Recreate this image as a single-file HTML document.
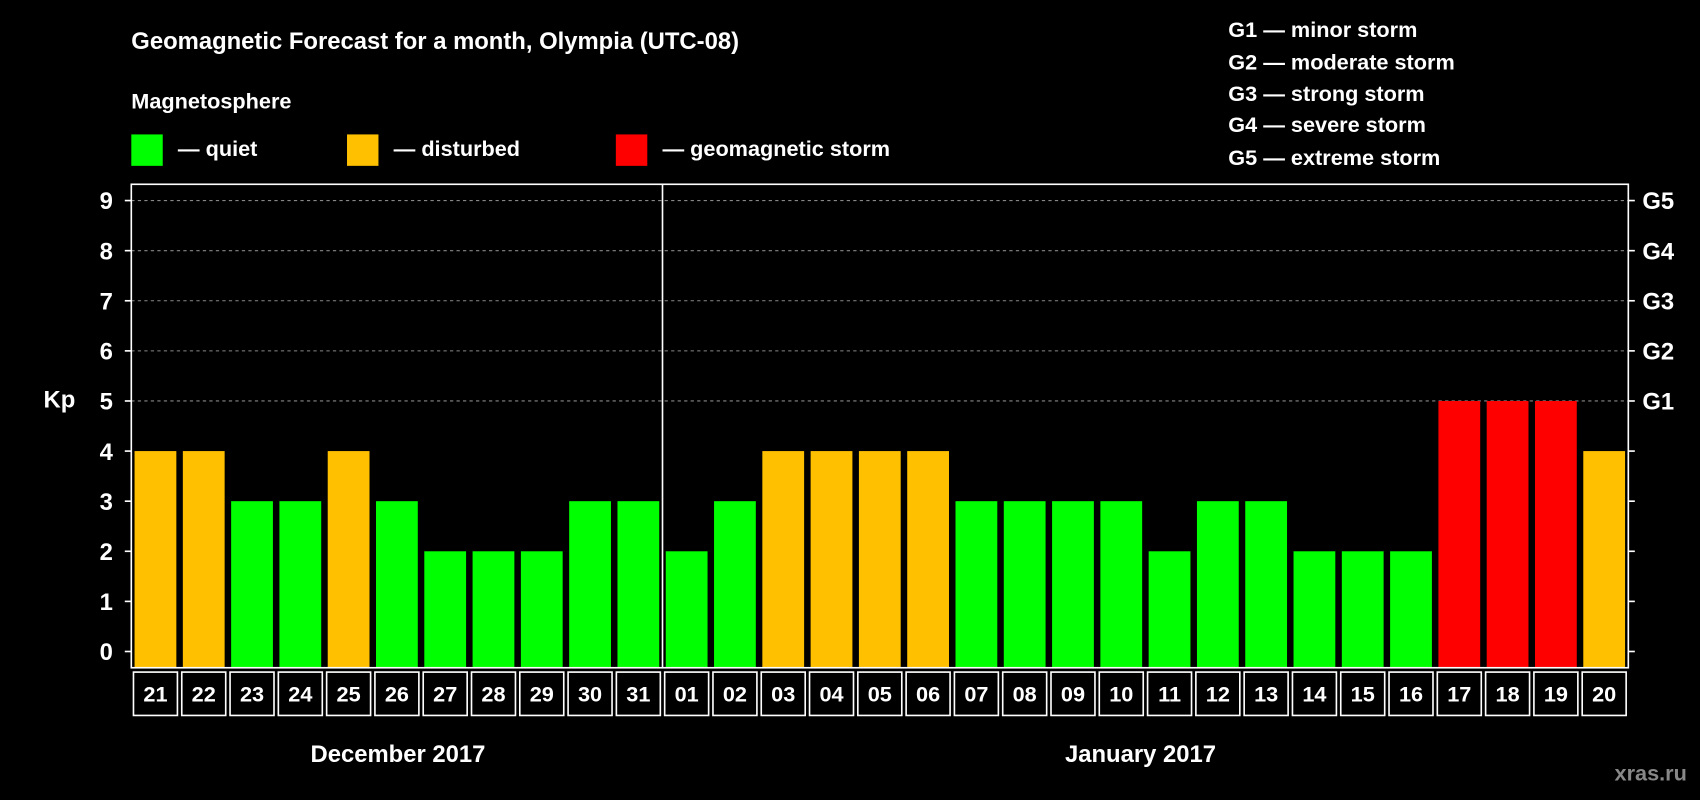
<!DOCTYPE html>
<html><head><meta charset="utf-8"><style>
html,body{margin:0;padding:0;background:#000;}
svg{display:block;font-family:"Liberation Sans",Arial,sans-serif;font-weight:bold;}
</style></head><body>
<svg id="chart" width="1700" height="800" viewBox="0 0 1568 738" xmlns="http://www.w3.org/2000/svg">
<rect x="0" y="0" width="1568" height="738" fill="#000"/>
<text x="121" y="45" fill="#fff" font-size="22">Geomagnetic Forecast for a month, Olympia (UTC-08)</text>
<text x="121" y="100" fill="#fff" font-size="20">Magnetosphere</text>
<g><rect x="121" y="124" width="29" height="29" fill="#00ff00"/><text x="164" y="144" fill="#fff" font-size="20">— quiet</text></g>
<g><rect x="320" y="124" width="29" height="29" fill="#ffc000"/><text x="363" y="144" fill="#fff" font-size="20">— disturbed</text></g>
<g><rect x="568" y="124" width="29" height="29" fill="#ff0000"/><text x="611" y="144" fill="#fff" font-size="20">— geomagnetic storm</text></g>
<g fill="#fff" font-size="20">
<text x="1133" y="34">G1 — minor storm</text>
<text x="1133" y="64">G2 — moderate storm</text>
<text x="1133" y="93">G3 — strong storm</text>
<text x="1133" y="122">G4 — severe storm</text>
<text x="1133" y="152">G5 — extreme storm</text>
</g>
<text x="40" y="376" fill="#fff" font-size="22">Kp</text>
<g id="grid"></g>
<g id="bars"></g>
<rect x="121" y="170" width="1381" height="446" fill="none" stroke="#fff" stroke-width="1.5"/>
<g id="axes"></g>
<text x="367" y="703" fill="#fff" font-size="22" text-anchor="middle">December 2017</text>
<text x="1052" y="703" fill="#fff" font-size="22" text-anchor="middle">January 2017</text>
<text x="1556" y="720" fill="#888" font-size="20" text-anchor="end">xras.ru</text>
</svg>
<script>
const days = ["21","22","23","24","25","26","27","28","29","30","31","01","02","03","04","05","06","07","08","09","10","11","12","13","14","15","16","17","18","19","20"];
const kpValues = [4,4,3,3,4,3,2,2,2,3,3,2,3,4,4,4,4,3,3,3,3,2,3,3,2,2,2,5,5,5,4];
const yTicks = [0,1,2,3,4,5,6,7,8,9];
const gLabels = ["","","","","","G1","G2","G3","G4","G5"];
const monthSplitIndex = 11;

const NS="http://www.w3.org/2000/svg";
const L=121,R=1502,T=170,B=616,Y0=601,UNIT=46.22;
const colW=(R-L)/days.length;
function yScale(v){return Y0-v*UNIT;}
function xScale(i){return L+i*colW;}
function mk(tag,attrs){const e=document.createElementNS(NS,tag);for(const k in attrs)e.setAttribute(k,attrs[k]);return e;}
const grid=document.getElementById('grid'),bars=document.getElementById('bars'),axes=document.getElementById('axes');
yTicks.forEach((t,i)=>{
  const y=yScale(t);
  if(t>=5){const g=mk('line',{x1:L,x2:R,y1:y,y2:y,stroke:'#888','stroke-dasharray':'3,3','stroke-width':1});
    
    grid.appendChild(g);}
  const tl=mk('line',{x1:L-6,x2:L,y1:y,y2:y,stroke:'#fff','stroke-width':1.5});
  
  axes.appendChild(tl);
  const tr=mk('line',{x1:R,x2:R+6,y1:y,y2:y,stroke:'#fff','stroke-width':1.5});
  
  axes.appendChild(tr);
  const lb=mk('text',{x:104,y:y+8,fill:'#fff','font-size':22,'text-anchor':'end'});lb.textContent=t;
  
  axes.appendChild(lb);
  if(gLabels[i]){const gl=mk('text',{x:1515,y:y+8,fill:'#fff','font-size':22});gl.textContent=gLabels[i];
    
    axes.appendChild(gl);}
});
kpValues.forEach((v,i)=>{
  const x=xScale(i)+3,w=colW-6,y=yScale(v);
  const c=v>=5?'#ff0000':(v>=4?'#ffc000':'#00ff00');
  const r=mk('rect',{x:x,y:y,width:w,height:B-y,fill:c});
  
  bars.appendChild(r);
  const bx=mk('rect',{x:xScale(i)+2,y:620,width:colW-4,height:40,fill:'none',stroke:'#fff','stroke-width':1.5});
  
  axes.appendChild(bx);
  const tx=mk('text',{x:xScale(i)+colW/2,y:647,fill:'#fff','font-size':20,'text-anchor':'middle'});tx.textContent=days[i];
  
  axes.appendChild(tx);
});
const sx=xScale(monthSplitIndex);
const sl=mk('line',{x1:sx,x2:sx,y1:T,y2:B,stroke:'#fff','stroke-width':1.5});

axes.appendChild(sl);
</script>
</body></html>
